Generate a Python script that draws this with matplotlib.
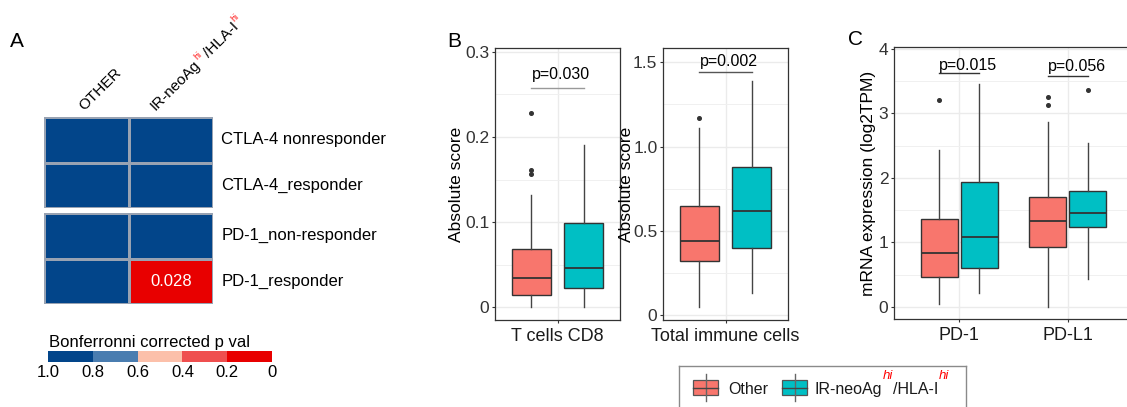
import matplotlib
matplotlib.use('Agg')
import numpy as np
import matplotlib.pyplot as plt
from matplotlib.colors import ListedColormap, BoundaryNorm
from matplotlib.patches import Rectangle
from matplotlib.ticker import MultipleLocator
from matplotlib.transforms import IdentityTransform

plt.rcParams['font.family'] = ['Liberation Sans', 'DejaVu Sans']

# ---- data ----
heat_rows = ['CTLA-4 nonresponder', 'CTLA-4_responder', 'PD-1_non-responder', 'PD-1_responder']
heat_pvals = [[1.0, 1.0], [1.0, 1.0], [1.0, 1.0], [1.0, 0.028]]
cb_bounds = [0, 0.2, 0.4, 0.6, 0.8, 1.0]
cb_labels = ['0', '0.2', '0.4', '0.6', '0.8', '1.0']
cb_colors = ['#E80000', '#EF4F4F', '#FCC0AA', '#4A7DB0', '#02458A']

groups = ['Other', 'IR-neoAg/HLA-I']
group_colors = ['#F8766D', '#00BFC4']

# box stats: (whislo, q1, med, q3, whishi, fliers)
cd8_other = (0.0, 0.014, 0.034, 0.068, 0.132, [0.228, 0.161, 0.157])
cd8_hi = (0.0, 0.023, 0.046, 0.099, 0.191, [])
imm_other = (0.047, 0.32, 0.44, 0.648, 1.109, [1.172])
imm_hi = (0.134, 0.397, 0.617, 0.881, 1.389, [])
pd1_other = (0.036, 0.466, 0.84, 1.36, 2.43, [3.2])
pd1_hi = (0.22, 0.596, 1.08, 1.94, 3.455, [])
pdl1_other = (0.0, 0.93, 1.33, 1.71, 2.87, [3.25, 3.13])
pdl1_hi = (0.425, 1.24, 1.45, 1.80, 2.54, [3.37])

genes = ['PD-1', 'PD-L1']
pvals_b = ['p=0.030', 'p=0.002']
pvals_c = ['p=0.015', 'p=0.056']

W, H = 1127, 407
fig = plt.figure(figsize=(W / 100, H / 100), dpi=100)
renderer = fig.canvas.get_renderer()


def px_axes(x0, y0, x1, y1):
    return fig.add_axes([x0 / W, 1 - y1 / H, (x1 - x0) / W, (y1 - y0) / H])


def chain_text(x0, y0, parts, angle=0):
    # parts: (text, size, color, style, rise_px, gap_px); x0,y0 in image pixels
    ca, sa = np.cos(np.radians(angle)), np.sin(np.radians(angle))
    d = 0
    yb = H - y0
    for s, size, color, style, rise, gap in parts:
        t = fig.text(0, 0, s, fontsize=size, fontstyle=style)
        w = t.get_window_extent(renderer).width
        t.remove()
        px = x0 + d * ca - rise * sa
        py = yb + d * sa + rise * ca
        fig.text(px, py, s, transform=IdentityTransform(), fontsize=size, color=color,
                 fontstyle=style, rotation=angle, rotation_mode='anchor',
                 ha='left', va='baseline')
        d += w + gap


# ---- panel A: heatmap ----
cmap = ListedColormap(cb_colors)
norm = BoundaryNorm(cb_bounds, ncolors=5, clip=True)
blocks = [(117, 208, 0), (213, 304, 2)]
for y0, y1, r0 in blocks:
    ax = px_axes(44, y0, 213, y1)
    vals = np.array(heat_pvals[r0:r0 + 2])
    ax.pcolormesh(vals, cmap=cmap, norm=norm, edgecolors='#98A2B2', linewidth=0.8)
    ax.set_xlim(0, 2)
    ax.set_ylim(2, 0)
    ax.axis('off')
    for i in range(2):
        ax.text(2.1, i + 0.5, heat_rows[r0 + i], va='center', ha='left', fontsize=12)
        for j in range(2):
            if vals[i, j] < 0.05:
                ax.text(j + 0.5, i + 0.5, f'{vals[i, j]:.3f}', color='white',
                        ha='center', va='center', fontsize=12)

chain_text(84, 111, [('OTHER', 11, 'black', 'normal', 0, 0)], angle=45)
chain_text(156, 111, [('IR-neoAg', 11, 'black', 'normal', 0, 1),
                      ('hi', 6.5, 'red', 'normal', 7, 2),
                      ('/HLA-I', 11, 'black', 'normal', 0, 1),
                      ('hi', 6.5, 'red', 'normal', 7, 0)], angle=45)

cax = px_axes(48, 351, 272, 362)
mids = [(a + b) / 2 for a, b in zip(cb_bounds[:-1], cb_bounds[1:])]
cax.pcolormesh(cb_bounds, [0, 1], np.array([mids]), cmap=cmap, norm=norm)
cax.set_xlim(1, 0)
cax.set_xticks(cb_bounds)
cax.set_xticklabels(cb_labels, fontsize=12)
cax.tick_params(axis='x', length=0, pad=2)
cax.set_yticks([])
for s in cax.spines.values():
    s.set_visible(False)
fig.text(49, H - 347, 'Bonferronni corrected p val', transform=IdentityTransform(),
         fontsize=12, va='baseline')


# ---- boxplot helpers ----
def style_axes(ax):
    for s in ax.spines.values():
        s.set_color('#333333')
        s.set_linewidth(0.9)
    ax.set_axisbelow(True)
    ax.grid(which='major', color='#EBEBEB', linewidth=1.0)
    ax.grid(which='minor', axis='y', color='#F0F0F0', linewidth=0.7)
    ax.tick_params(which='major', color='#333333', length=2.5, pad=1.5,
                   labelcolor='#333333', labelsize=12.5)
    ax.tick_params(which='minor', length=0)


def draw_boxes(ax, stats_list, positions, width):
    stats = []
    for st in stats_list:
        lo, q1, med, q3, hi, fl = st
        stats.append(dict(whislo=lo, q1=q1, med=med, q3=q3, whishi=hi, fliers=fl))
    res = ax.bxp(stats, positions=positions, widths=width, patch_artist=True,
                 showcaps=False, manage_ticks=False,
                 boxprops=dict(edgecolor='#333333', linewidth=1.0),
                 medianprops=dict(color='#333333', linewidth=1.3),
                 whiskerprops=dict(color='#444444', linewidth=1.0),
                 flierprops=dict(marker='o', markersize=2.6, markerfacecolor='#333333',
                                 markeredgecolor='#333333'))
    for i, b in enumerate(res['boxes']):
        b.set_facecolor(group_colors[i % 2])


# ---- panel B ----
b_sets = [(495, 'T cells CD8', cd8_other, cd8_hi, (-0.015, 0.3045), [0, 0.1, 0.2, 0.3],
           ['0', '0.1', '0.2', '0.3'], 0.05, 0.2574, 0.268, '#999999', 1),
          (663, 'Total immune cells', imm_other, imm_hi, (-0.028, 1.585), [0, 0.5, 1.0, 1.5],
           ['0', '0.5', '1.0', '1.5'], 0.25, 1.444, 1.478, '#555555', -1)]
for k, (x0, lab, so, sh, ylim, yt, ytl, minor, yline, ytext, lcol, lpad) in enumerate(b_sets):
    ax = px_axes(x0, 48, x0 + 125, 320)
    style_axes(ax)
    draw_boxes(ax, [so, sh], [0.75, 1.25], 0.375)
    ax.set_xlim(0.4, 1.6)
    ax.set_ylim(*ylim)
    ax.set_xticks([1])
    ax.set_xticklabels([lab], fontsize=13, color='#1a1a1a')
    ax.tick_params(axis='x', pad=3)
    ax.set_yticks(yt)
    ax.set_yticklabels(ytl)
    ax.yaxis.set_minor_locator(MultipleLocator(minor))
    ax.set_ylabel('Absolute score', fontsize=12.5, labelpad=lpad)
    ax.plot([0.75, 1.25], [yline, yline], color=lcol, linewidth=1.0)
    ax.text(0.75, ytext, pvals_b[k], ha='left', va='baseline', fontsize=11.5)

# ---- panel C ----
axc = px_axes(894, 47, 1133, 319)
style_axes(axc)
draw_boxes(axc, [pd1_other, pd1_hi, pdl1_other, pdl1_hi], [0.815, 1.185, 1.815, 2.185], 0.34)
axc.set_xlim(0.4, 2.6)
axc.set_ylim(-0.19, 4.03)
axc.set_xticks([1, 2])
axc.set_xticklabels(genes, fontsize=13, color='#1a1a1a')
axc.tick_params(axis='x', pad=3)
axc.set_yticks([0, 1, 2, 3, 4])
axc.yaxis.set_minor_locator(MultipleLocator(0.5))
axc.set_ylabel('mRNA expression (log2TPM)', fontsize=12.5, labelpad=2)
for i, (yl, yt) in enumerate([(3.627, 3.68), (3.585, 3.65)]):
    axc.plot([i + 0.815, i + 1.185], [yl, yl], color='#333333', linewidth=1.0)
    axc.text(i + 0.815, yt, pvals_c[i], ha='left', va='baseline', fontsize=11.5)

# ---- legend ----
lax = px_axes(679, 366, 966, 430)
lax.set_xlim(679, 966)
lax.set_ylim(430, 366)
lax.set_xticks([])
lax.set_yticks([])
for s in lax.spines.values():
    s.set_color('#8A8A8A')
    s.set_linewidth(1.0)
for kx, col in zip([693, 782], group_colors):
    lax.plot([kx + 12.5, kx + 12.5], [374, 401], color='#666666', linewidth=1.0)
    lax.add_patch(Rectangle((kx, 380), 25, 15, facecolor=col, edgecolor='#555555', linewidth=0.9))
    lax.plot([kx, kx + 25], [387.5, 387.5], color='#444444', linewidth=1.0)
chain_text(728, 394, [('Other', 11.5, '#1a1a1a', 'normal', 0, 0)])
chain_text(814, 394, [('IR-neoAg', 11.5, '#1a1a1a', 'normal', 0, 1),
                      ('hi', 9.5, 'red', 'italic', 15, 0),
                      ('/HLA-I', 11.5, '#1a1a1a', 'normal', 0, 1),
                      ('hi', 9.5, 'red', 'italic', 15, 0)])

# ---- panel letters ----
for lab, x, y in [('A', 10, 47), ('B', 447, 47), ('C', 848, 45)]:
    fig.text(x, H - y, lab, transform=IdentityTransform(), fontsize=15, va='baseline')

fig.savefig('out.png', dpi=100)
